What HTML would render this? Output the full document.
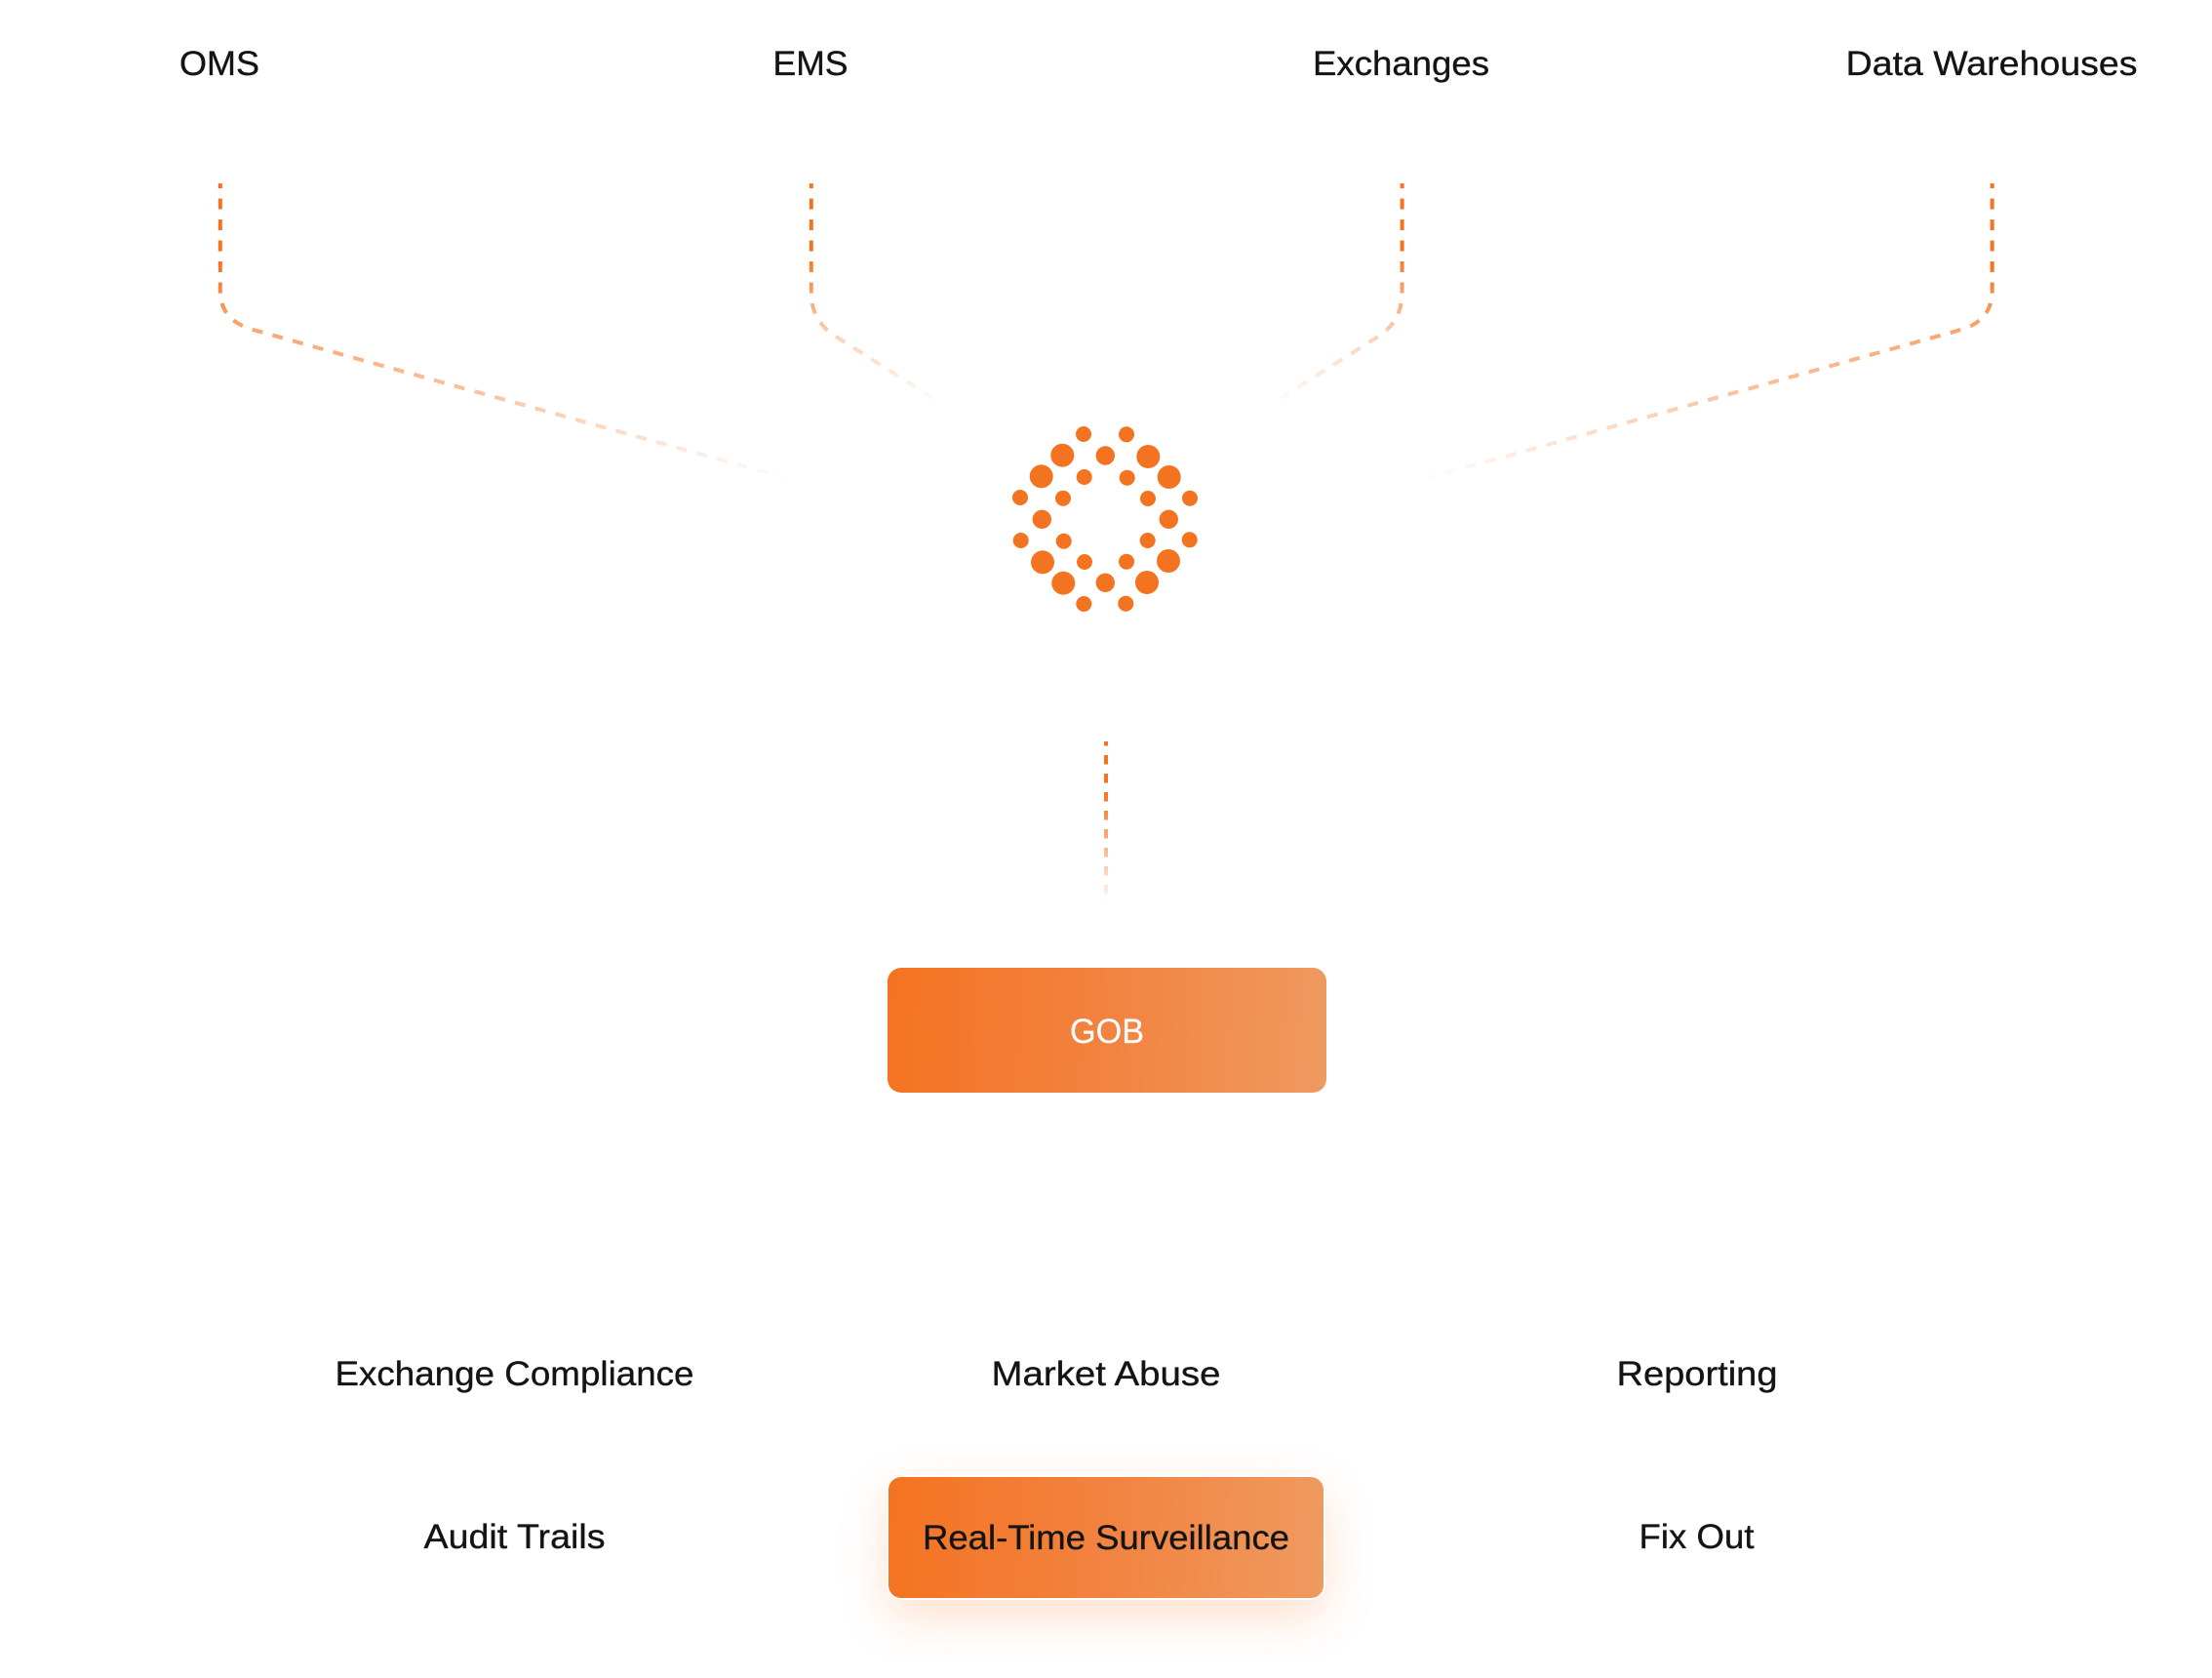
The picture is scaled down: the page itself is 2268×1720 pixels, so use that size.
<!DOCTYPE html>
<html lang="en">
<head>
<meta charset="utf-8">
<title>Diagram</title>
<style>
html,body{margin:0;padding:0;background:#fff;width:2268px;height:1720px;overflow:hidden}
svg{display:block;position:absolute;left:0;top:0}
.box{position:absolute;box-sizing:border-box;background:linear-gradient(93deg,#f47321 0%,#f28340 50%,#ef9a60 100%)}
#gob{left:910px;top:992px;width:450px;height:128px;border-radius:14px}
#rts{left:911px;top:1514px;width:446px;height:124px;border-radius:13px;box-shadow:0 0 0 2px #fff,0 18px 50px rgba(245,115,35,.24)}
text{font-family:"Liberation Sans",Arial,sans-serif;font-size:35px;fill:#141414;stroke:#141414;stroke-width:.35px;text-anchor:middle}
.dash{fill:none;stroke-width:4;stroke-dasharray:11 10.5;stroke-dashoffset:6}
</style>
</head>
<body>
<div class="box" id="gob"></div>
<div class="box" id="rts"></div>
<svg width="2268" height="1720" viewBox="0 0 2268 1720" xmlns="http://www.w3.org/2000/svg">
<defs>
<linearGradient id="outer" gradientUnits="userSpaceOnUse" x1="0" y1="188" x2="0" y2="492">
<stop offset="0" stop-color="#f47321"/>
<stop offset=".27" stop-color="#f47321"/>
<stop offset=".49" stop-color="#f47321" stop-opacity=".64"/>
<stop offset=".7" stop-color="#f47321" stop-opacity=".44"/>
<stop offset=".87" stop-color="#f47321" stop-opacity=".2"/>
<stop offset="1" stop-color="#f47321" stop-opacity="0"/>
</linearGradient>
<linearGradient id="inner" gradientUnits="userSpaceOnUse" x1="0" y1="188" x2="0" y2="414">
<stop offset="0" stop-color="#f47321"/>
<stop offset=".32" stop-color="#f47321"/>
<stop offset=".5" stop-color="#f47321" stop-opacity=".65"/>
<stop offset=".7" stop-color="#f47321" stop-opacity=".32"/>
<stop offset=".87" stop-color="#f47321" stop-opacity=".15"/>
<stop offset="1" stop-color="#f47321" stop-opacity="0"/>
</linearGradient>
<linearGradient id="mid" gradientUnits="userSpaceOnUse" x1="0" y1="760" x2="0" y2="930">
<stop offset="0" stop-color="#f47321"/>
<stop offset=".3" stop-color="#f47321"/>
<stop offset="1" stop-color="#f47321" stop-opacity="0"/>
</linearGradient>
</defs>

<text x="225" y="77" textLength="82" lengthAdjust="spacingAndGlyphs">OMS</text>
<text x="831" y="77" textLength="77" lengthAdjust="spacingAndGlyphs">EMS</text>
<text x="1436.5" y="77" textLength="181" lengthAdjust="spacingAndGlyphs">Exchanges</text>
<text x="2042" y="77" textLength="299" lengthAdjust="spacingAndGlyphs">Data Warehouses</text>

<path class="dash" stroke="url(#outer)" d="M225.8 188V298Q225.8 328 258 337.6L806 490"/>
<path class="dash" stroke="url(#inner)" d="M831.8 188V300Q831.8 329.4 857 345L961 411"/>
<path class="dash" stroke="url(#inner)" d="M1437.6 188V300Q1437.6 329.4 1413 345L1309 411"/>
<path class="dash" stroke="url(#outer)" d="M2042.6 188V298Q2042.6 328 2012 337.6L1464 490"/>
<path class="dash" stroke="url(#mid)" style="stroke-dasharray:9.5 9.5;stroke-dashoffset:5" d="M1134 760V930"/>

<g fill="#f47321">
<circle cx="1111" cy="445" r="8"/><circle cx="1155" cy="445.3" r="8"/>
<circle cx="1111.7" cy="489" r="8"/><circle cx="1155.7" cy="489.7" r="8"/>
<circle cx="1046" cy="510" r="8"/><circle cx="1090" cy="510.7" r="8"/>
<circle cx="1177" cy="511" r="8"/><circle cx="1220" cy="510.7" r="8"/>
<circle cx="1046.7" cy="554" r="8"/><circle cx="1090.7" cy="554.7" r="8"/>
<circle cx="1176.7" cy="554" r="8"/><circle cx="1219.7" cy="553.3" r="8"/>
<circle cx="1112" cy="576" r="8"/><circle cx="1155" cy="575.7" r="8"/>
<circle cx="1111.3" cy="619" r="8"/><circle cx="1154.3" cy="618.7" r="8"/>
<circle cx="1133.3" cy="467" r="9.7"/><circle cx="1068.3" cy="532.3" r="9.7"/>
<circle cx="1198.3" cy="532.3" r="9.7"/><circle cx="1133.3" cy="597.3" r="9.7"/>
<circle cx="1089.3" cy="466.7" r="12"/><circle cx="1177.3" cy="468" r="12"/>
<circle cx="1067.7" cy="488.3" r="12"/><circle cx="1198.7" cy="489" r="12"/>
<circle cx="1069" cy="576.3" r="12"/><circle cx="1198" cy="575" r="12"/>
<circle cx="1090.3" cy="597.7" r="12"/><circle cx="1176" cy="597" r="12"/>
</g>

<text x="1135" y="1069" textLength="76" lengthAdjust="spacingAndGlyphs" style="fill:#fff;stroke:#fff;stroke-width:.2px">GOB</text>

<text x="527.5" y="1420" textLength="368" lengthAdjust="spacingAndGlyphs">Exchange Compliance</text>
<text x="1134" y="1420" textLength="235" lengthAdjust="spacingAndGlyphs">Market Abuse</text>
<text x="1740" y="1420" textLength="165" lengthAdjust="spacingAndGlyphs">Reporting</text>
<text x="527.5" y="1587" textLength="186" lengthAdjust="spacingAndGlyphs">Audit Trails</text>
<text x="1134" y="1588" textLength="376" lengthAdjust="spacingAndGlyphs">Real-Time Surveillance</text>
<text x="1739.5" y="1587" textLength="118" lengthAdjust="spacingAndGlyphs">Fix Out</text>
</svg>
</body>
</html>
